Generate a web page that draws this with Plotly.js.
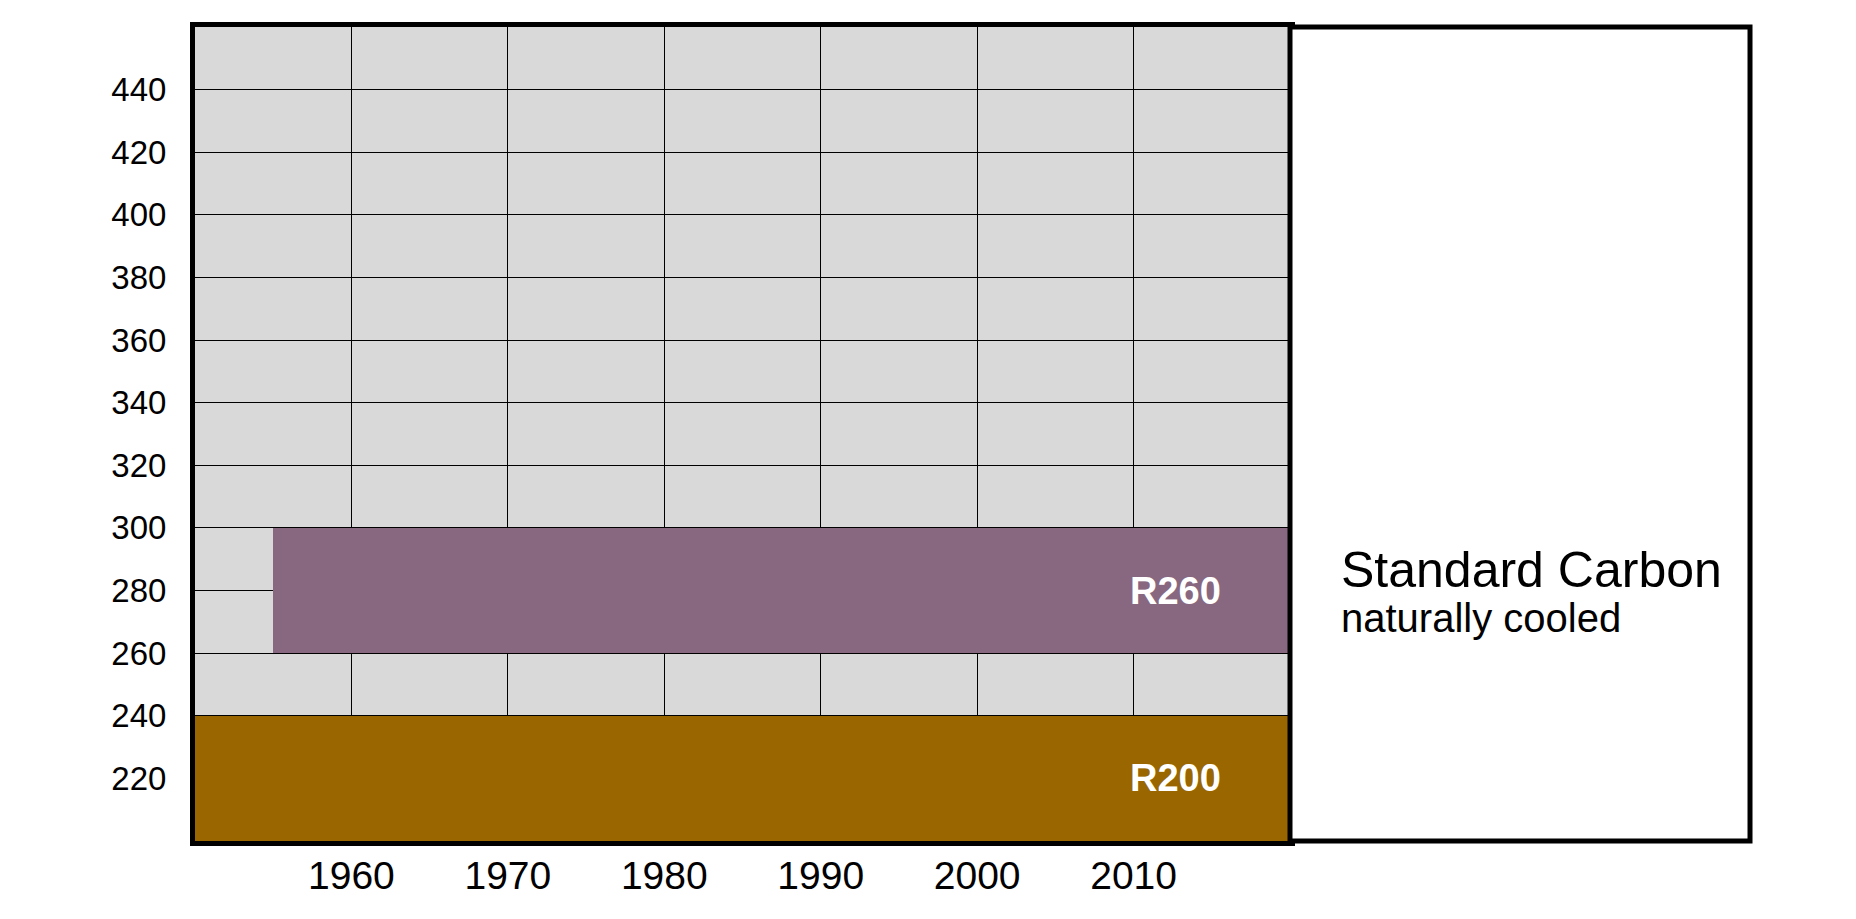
<!DOCTYPE html>
<html>
<head>
<meta charset="utf-8">
<script src="https://cdn.plot.ly/plotly-3.0.1.min.js"></script>
<style>html,body{margin:0;padding:0;background:#fff;}#chart{width:1856px;height:919px;}</style>
</head>
<body>
<div id="chart"></div>
<script>
// Data
const grades = ['R200', 'R260'];
const startYear = [1950, 1955];
const endYear = [2020, 2020];
const tempLow = [200, 260];
const tempHigh = [240, 300];
const gradeColors = ['#996600', '#886880'];
const xTicks = [1960, 1970, 1980, 1990, 2000, 2010];
const yTicks = [220, 240, 260, 280, 300, 320, 340, 360, 380, 400, 420, 440];
const boxTitle = 'Standard Carbon';
const boxSubtitle = 'naturally cooled';

const FONT = 'Liberation Sans, Arial, sans-serif';

const trace = {
  type: 'bar',
  orientation: 'h',
  y: tempLow.map((l, i) => (l + tempHigh[i]) / 2),
  x: endYear.map((e, i) => e - startYear[i]),
  base: startYear,
  width: tempHigh.map((h, i) => h - tempLow[i]),
  marker: {color: gradeColors, line: {width: 0}},
  hoverinfo: 'skip',
  showlegend: false
};

const labelAnnotations = grades.map((g, i) => ({
  xref: 'x', yref: 'y',
  x: 2012.65, y: (tempLow[i] + tempHigh[i]) / 2,
  text: '<b>' + g + '</b>',
  showarrow: false,
  xanchor: 'center', yanchor: 'middle',
  font: {family: FONT, size: 38, color: '#ffffff'}
}));

const layout = {
  width: 1856, height: 919,
  margin: {l: 195, r: 566, t: 27, b: 78, pad: 0},
  paper_bgcolor: '#ffffff',
  plot_bgcolor: '#d9d9d9',
  bargap: 0,
  xaxis: {
    range: [1950, 2020],
    tickvals: xTicks,
    ticktext: xTicks.map(String),
    showgrid: true, gridcolor: '#000000', gridwidth: 1,
    zeroline: false,
    showline: true, linecolor: '#000000', linewidth: 5, mirror: true,
    ticks: '', ticklen: 0,
    ticklabelstandoff: -4,
    tickfont: {family: FONT, size: 39, color: '#000000'}
  },
  yaxis: {
    range: [200, 460],
    tickvals: yTicks,
    ticktext: yTicks.map(String),
    showgrid: true, gridcolor: '#000000', gridwidth: 1,
    zeroline: false,
    showline: true, linecolor: '#000000', linewidth: 5, mirror: true,
    ticks: '', ticklen: 0,
    ticklabelstandoff: 17,
    tickfont: {family: FONT, size: 33, color: '#000000'}
  },
  shapes: [{
    type: 'rect', xref: 'paper', yref: 'paper',
    x0: 1, x1: 1.4201, y0: 0, y1: 1,
    fillcolor: '#ffffff',
    line: {color: '#000000', width: 5},
    layer: 'above'
  }],
  annotations: labelAnnotations.concat([
    {
      xref: 'paper', yref: 'paper', x: 1.045, y: 0.333,
      text: boxTitle, showarrow: false, xanchor: 'left', yanchor: 'middle',
      font: {family: FONT, size: 50, color: '#000000'}
    },
    {
      xref: 'paper', yref: 'paper', x: 1.045, y: 0.274,
      text: boxSubtitle, showarrow: false, xanchor: 'left', yanchor: 'middle',
      font: {family: FONT, size: 40, color: '#000000'}
    }
  ])
};

Plotly.newPlot('chart', [trace], layout, {staticPlot: true, displayModeBar: false});
</script>
</body>
</html>
